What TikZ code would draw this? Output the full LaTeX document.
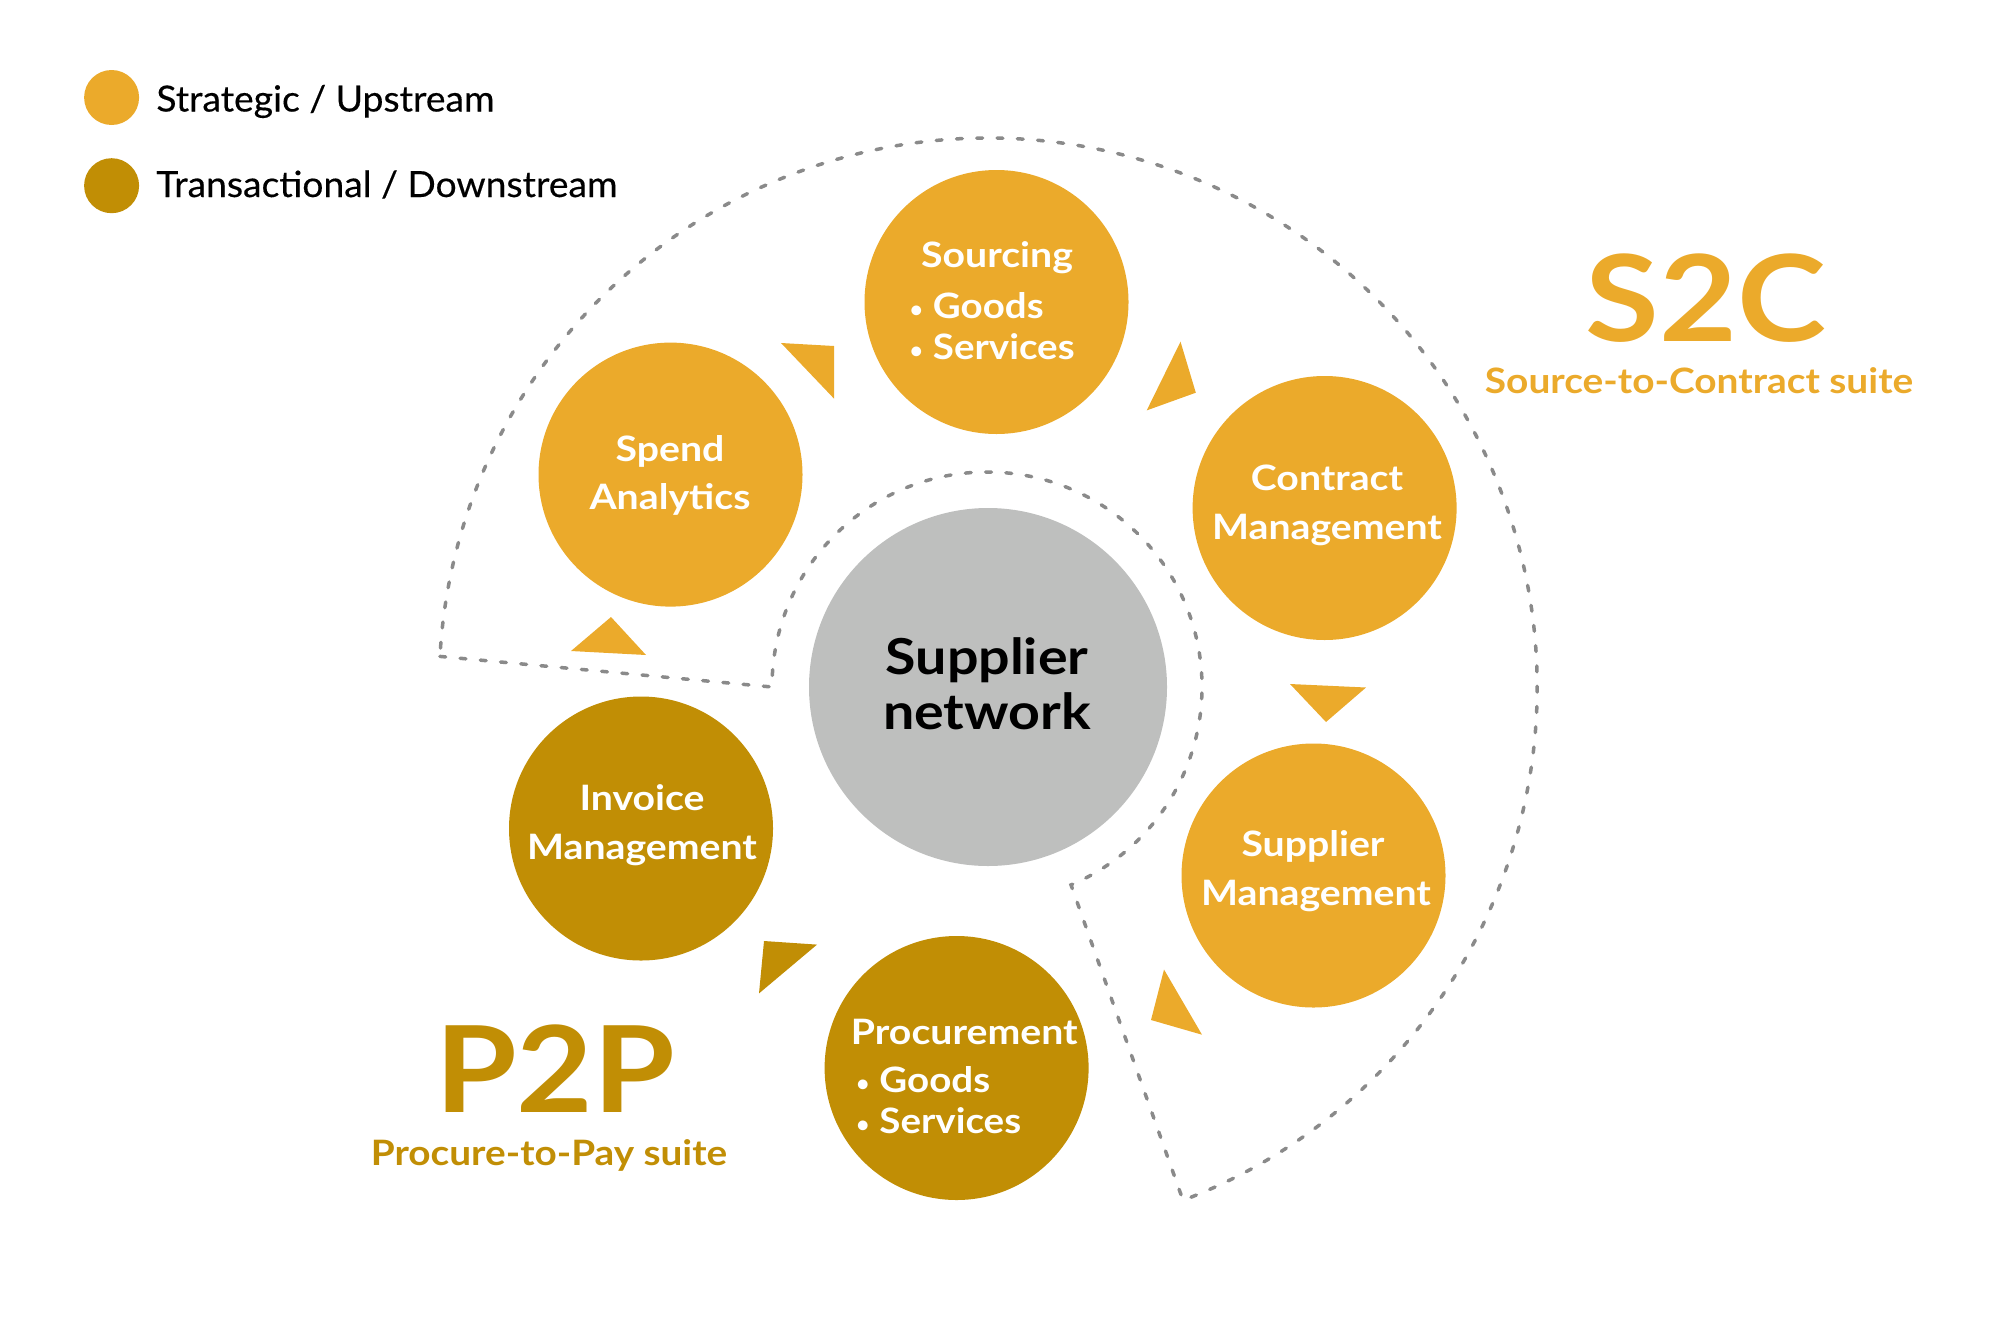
\documentclass[tikz,border=0pt]{standalone}
\usepackage{fontspec}
\setmainfont{Lato}
\newfontfamily\legfont[FakeBold=0.35]{Lato}
\definecolor{strat}{HTML}{EBAA2B}
\definecolor{trans}{HTML}{C18E05}
\definecolor{netgray}{HTML}{BEBFBE}
\definecolor{dashgray}{HTML}{8A8A8A}
\newcommand{\wtxt}[1]{\scalebox{1.12}[1]{#1}}
\newcommand{\wleg}[1]{\scalebox{1.035}[1]{#1}}
\newcommand{\bulitem}[1]{\raisebox{0.7pt}{\fontsize{11.2pt}{12pt}\selectfont •}\hspace{5pt}\scalebox{1.1}[1]{#1}}
\begin{document}
\begin{tikzpicture}[x=0.5pt,y=-0.5pt,
  stratcirc/.style={circle,fill=strat,inner sep=0pt,minimum size=132pt},
  transcirc/.style={circle,fill=trans,inner sep=0pt,minimum size=132pt},
  legdot/.style={circle,inner sep=0pt,minimum size=27.5pt},
  lab/.style={anchor=base,inner sep=0pt,text=white,font=\bfseries\fontsize{17.5pt}{21pt}\selectfont},
  labl/.style={lab,anchor=base west},
  legtext/.style={anchor=base west,inner sep=0pt,text=black,font=\legfont\fontsize{18pt}{21pt}\selectfont},
  bigtitle/.style={anchor=base,inner sep=0pt,font=\bfseries\fontsize{60pt}{66pt}\selectfont},
  subtitle/.style={anchor=base,inner sep=0pt,font=\bfseries\fontsize{17.5pt}{21pt}\selectfont},
  suite/.style={draw=dashgray,line width=1.75pt,dash pattern=on 2.9pt off 7.25pt,line cap=round},
  flowtri/.style={draw=none}
]
\useasboundingbox (0,0) rectangle (2000,1317);

% legend
\node[legdot,fill=strat] (dotS) at (111.6,97.5) {};
\node[legdot,fill=trans] (dotT) at (111.6,185.7) {};
\node[legtext] (legS) at (156,111.5) {\wleg{Strategic / Upstream}};
\node[legtext] (legT) at (156,197) {\wleg{Transactional / Downstream}};

% dashed S2C boundary
\draw[suite] (439.9,656.4) -- (772,687) arc[start angle=180,end angle=427,radius=215]
  -- (1183,1200.3) arc[start angle=69.2,end angle=-176.8,radius=549] -- cycle;

% circles
\node[circle,fill=netgray,inner sep=0pt,minimum size=179pt] (net) at (988,687) {};
\node[stratcirc] (spend) at (670.5,474.6) {};
\node[stratcirc] (sourcing) at (996.5,302) {};
\node[stratcirc] (contract) at (1324.6,508) {};
\node[stratcirc] (suppm) at (1313.5,875.5) {};
\node[transcirc] (procure) at (956.6,1068) {};
\node[transcirc] (invoice) at (641,828.5) {};

% flow triangles
\fill[strat,flowtri] (781,343) -- (834,346) -- (834,398.6) -- cycle;
\fill[strat,flowtri] (1180.5,341.7) -- (1195.8,392.7) -- (1146.7,410.4) -- cycle;
\fill[strat,flowtri] (1290,684) -- (1366,687.5) -- (1326,722) -- cycle;
\fill[strat,flowtri] (1164,969.5) -- (1202,1034.7) -- (1151,1020) -- cycle;
\fill[trans,flowtri] (764,941) -- (817,944.6) -- (759,993.4) -- cycle;
\fill[strat,flowtri] (611,617) -- (646,655) -- (571,651) -- cycle;

% labels
\node[lab] (t1a) at (670,461.5) {\wtxt{Spend}};
\node[lab] (t1b) at (670,509.5) {\wtxt{Analytics}};
\node[lab] (t2a) at (997,267.5) {\wtxt{Sourcing}};
\node[labl] (t2b) at (909.5,318.5) {\bulitem{Goods}};
\node[labl] (t2c) at (909.5,359.5) {\bulitem{Services}};
\node[lab] (t3a) at (1327,490.5) {\wtxt{Contract}};
\node[lab] (t3b) at (1327,539.5) {\wtxt{Management}};
\node[lab] (t4a) at (1313,856) {\wtxt{Supplier}};
\node[lab] (t4b) at (1316,905) {\wtxt{Management}};
\node[lab] (t5a) at (964.3,1044) {\wtxt{Procurement}};
\node[labl] (t5b) at (856,1092.5) {\bulitem{Goods}};
\node[labl] (t5c) at (856,1133.5) {\bulitem{Services}};
\node[lab] (t6a) at (642,810) {\wtxt{Invoice}};
\node[lab] (t6b) at (642,859.5) {\wtxt{Management}};
\node[anchor=base,inner sep=0pt,font=\bfseries\fontsize{24.8pt}{28pt}\selectfont] (n1) at (987,674) {\wtxt{Supplier}};
\node[anchor=base,inner sep=0pt,font=\bfseries\fontsize{24.8pt}{28pt}\selectfont] (n2) at (987,729) {\wtxt{network}};

% suite titles
\node[bigtitle,text=strat] (s2c) at (1706,341.7) {\wtxt{S2C}};
\node[subtitle,text=strat] (s2cs) at (1699,393.5) {\scalebox{1.11}[1]{Source-to-Contract suite}};
\node[bigtitle,text=trans] (p2p) at (555,1112.5) {\scalebox{1.1}[1]{P2P}};
\node[subtitle,text=trans] (p2ps) at (549,1165) {\scalebox{1.107}[1]{Procure-to-Pay suite}};
\end{tikzpicture}
\end{document}
